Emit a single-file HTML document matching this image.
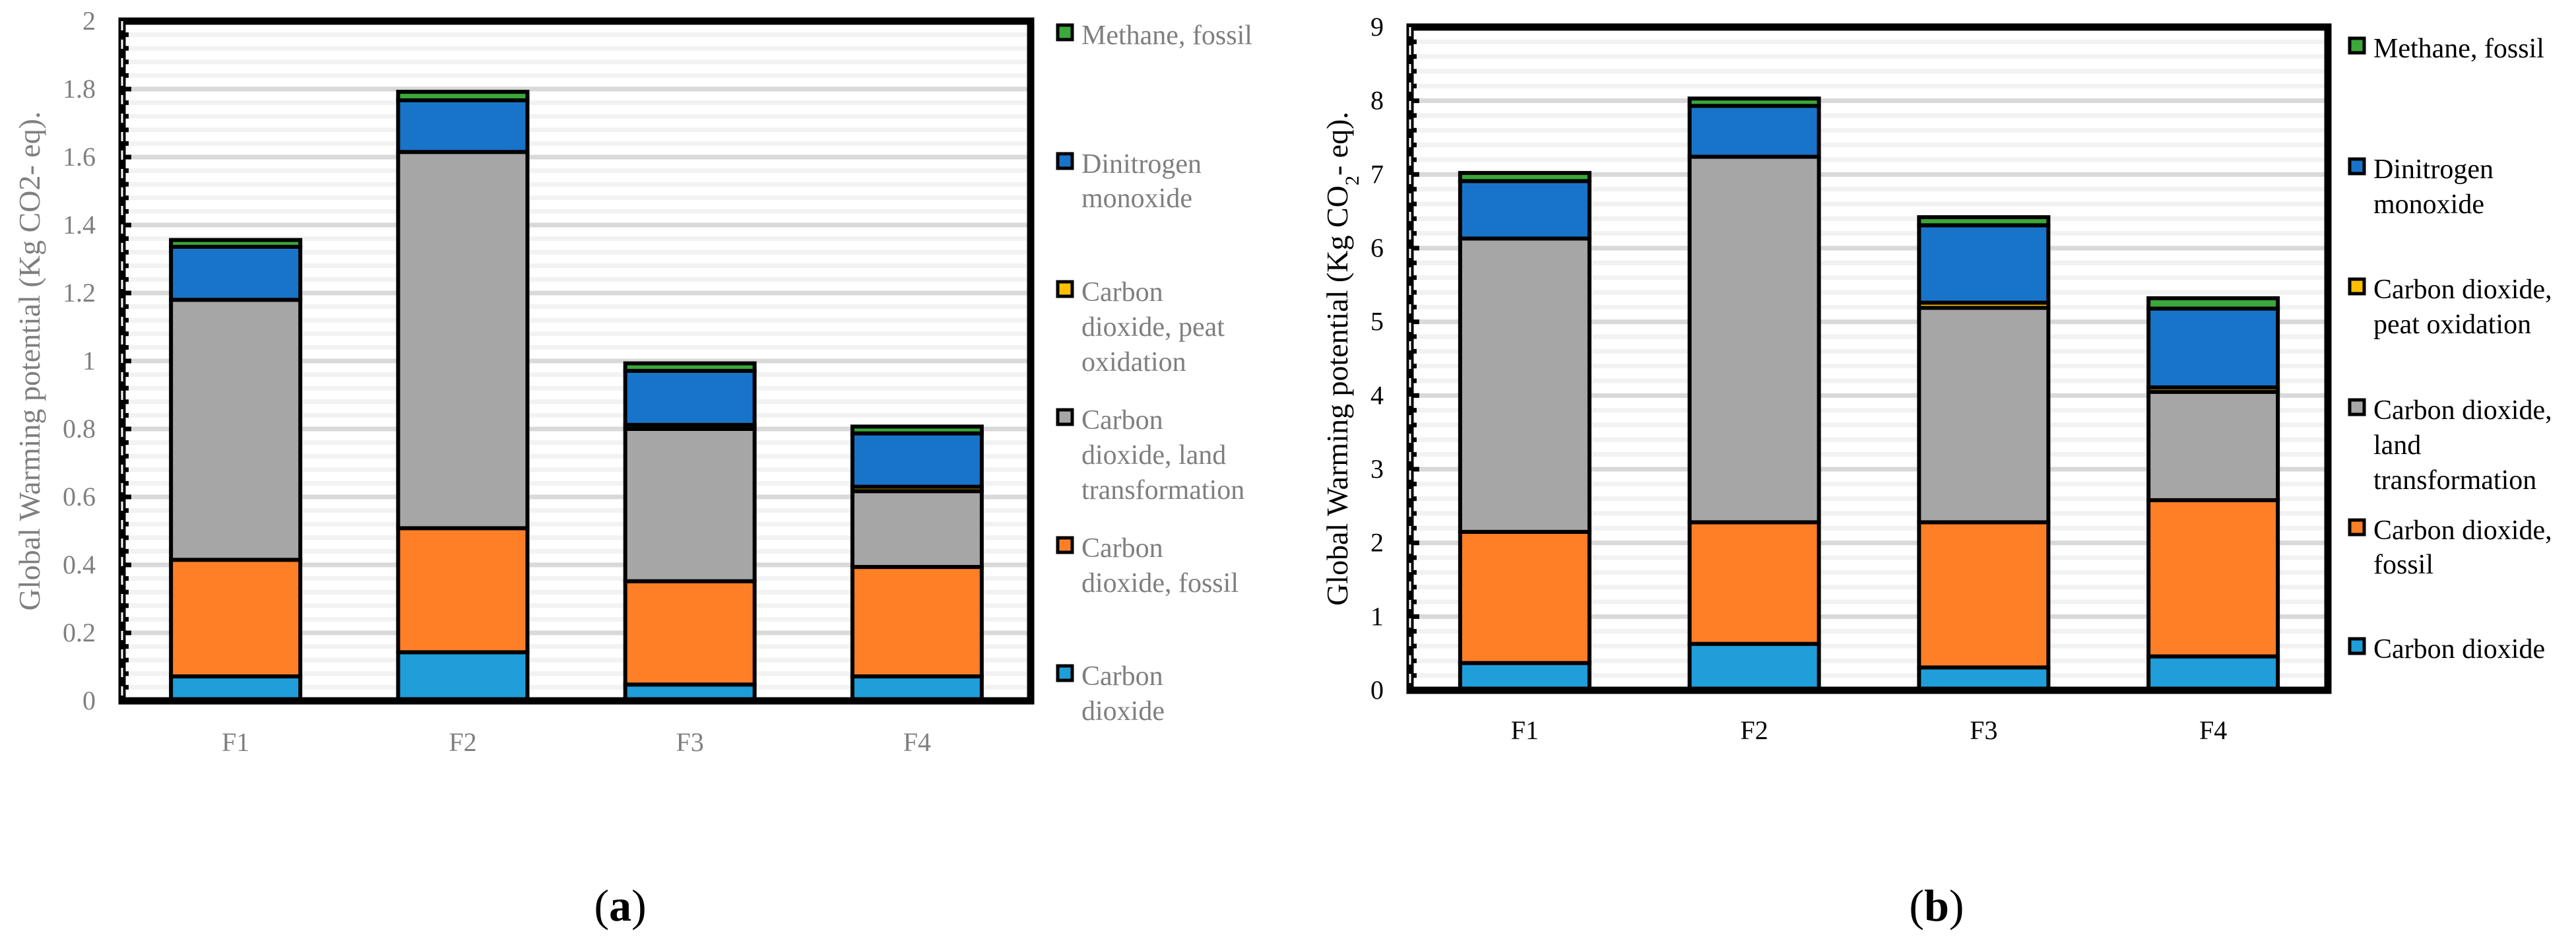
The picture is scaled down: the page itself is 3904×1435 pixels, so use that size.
<!DOCTYPE html>
<html><head><meta charset="utf-8">
<style>
html,body{margin:0;padding:0;background:#fff;}
svg{display:block;font-family:"Liberation Serif",serif;}
svg text{font-family:"Liberation Serif",serif;}
</style></head>
<body>
<svg id="fig" width="3904" height="1435" viewBox="0 0 3904 1435" xmlns="http://www.w3.org/2000/svg" font-family="Liberation Serif, serif"></svg>
<script>
const categories = ["F1","F2","F3","F4"];
const seriesNames = ["Carbon dioxide","Carbon dioxide, fossil","Carbon dioxide, land transformation","Carbon dioxide, peat oxidation","Dinitrogen monoxide","Methane, fossil"];
const seriesColors = ["#1f9ed9","#fe7f26","#a6a6a6","#ffc000","#1874c8","#3aa83a"];
// Chart (a) values (Kg CO2-eq.)
const aCO2 = [0.072,0.143,0.048,0.072];
const aFossil = [0.343,0.365,0.304,0.322];
const aLand = [0.765,1.107,0.448,0.223];
const aPeat = [0.0,0.0,0.012,0.013];
const aN2O = [0.156,0.152,0.159,0.157];
const aCH4 = [0.02,0.025,0.022,0.02];
const aTicks = ["0","0.2","0.4","0.6","0.8","1","1.2","1.4","1.6","1.8","2"];
// Chart (b) values
const bCO2 = [0.37,0.63,0.31,0.46];
const bFossil = [1.78,1.65,1.97,2.12];
const bLand = [3.98,4.96,2.91,1.47];
const bPeat = [0.0,0.0,0.07,0.06];
const bN2O = [0.78,0.69,1.05,1.07];
const bCH4 = [0.11,0.10,0.11,0.14];
const bTicks = ["0","1","2","3","4","5","6","7","8","9"];

const NS="http://www.w3.org/2000/svg";
const svg=document.getElementById('fig');
const FF='"Liberation Serif", serif';
function mk(tag,attrs,parent){const e=document.createElementNS(NS,tag);for(const k in attrs)e.setAttribute(k,attrs[k]);if(tag==='text')e.style.fontFamily=FF;(parent||svg).appendChild(e);return e;}

function drawChart(cfg){
  const g=mk('g',{});
  
  
  const {L,R,T,B,max,ticks,step,series,col}=cfg;
  const y=v=>B-(v/max)*(B-T);
  const bw=(R-L)/categories.length;
  const x=i=>L+bw*(i+0.5);
  const nt=ticks.length-1;
  for(let k=0;k<nt;k++){
    for(let m=0;m<5;m++){
      const v=k*step+m*step/5;
      const yy=y(v);
      if(v===0) continue;
      const ln=mk('line',{x1:L,x2:R,y1:yy,y2:yy,stroke:m===0?'#d9d9d9':'#f2f2f2','stroke-width':7},g);
      
      
      const tk=mk('line',{x1:L,x2:L+(m===0?14:10),y1:yy,y2:yy,stroke:'#000','stroke-width':7},g);
      
      
    }
  }
  ticks.forEach((t,k)=>{
    const tx=mk('text',{x:L-40,y:y(k*step)+13,'text-anchor':'end','font-size':40,fill:col},g);
    tx.textContent=t;
    
    
  });
  categories.forEach((c,i)=>{
    let acc=0;
    series.forEach((s,si)=>{
      const v=s[i];
      const r=mk('rect',{x:x(i)-98,y:y(acc+v),width:196,height:Math.max(0,y(acc)-y(acc+v)),fill:seriesColors[si],stroke:'#000','stroke-width':6},g);
      
      
      acc+=v;
    });
    const lb=mk('text',{x:x(i),y:cfg.xlabY,'text-anchor':'middle','font-size':40,fill:col},g);
    lb.textContent=c;
    
    
  });
  const fr=mk('rect',{x:L,y:T,width:R-L,height:B-T,fill:'none',stroke:'#000','stroke-width':11},g);
  
  
  const ax=mk('line',{x1:L,x2:L,y1:T,y2:B,stroke:'#fff','stroke-width':3,'stroke-dasharray':'14 14'},g);
  
  
  const yt=mk('text',{x:0,y:0,'text-anchor':'middle','font-size':46,fill:col,transform:`translate(${cfg.ytX},${(T+B)/2}) rotate(-90)`},g);
  yt.innerHTML=cfg.ytitle;
  
  
  cfg.legend.forEach((it)=>{
    const lg=mk('g',{},g);
    
    
    const sw=mk('rect',{x:cfg.legX,y:it.lines[0]-29,width:22,height:22,fill:seriesColors[it.s],stroke:'#000','stroke-width':5},lg);
    
    
    it.text.forEach((t,j)=>{
      const tt=mk('text',{x:cfg.legX+36,y:it.lines[j],'font-size':42,fill:col},lg);
      tt.textContent=t;
      
      
    });
  });
  const cap=mk('text',{x:cfg.capX,y:1395,'text-anchor':'middle','font-size':68,fill:'#000'},g);
  cap.innerHTML='(<tspan font-weight="bold">'+cfg.cap+'</tspan>)';
  
  
}

drawChart({name:'chart-a',L:185,R:1562,T:32,B:1062,max:2,step:0.2,ticks:aTicks,
  series:[aCO2,aFossil,aLand,aPeat,aN2O,aCH4],col:'#7f7f7f',xlabY:1138,ytX:60,
  ytitle:'Global Warming potential (Kg CO2- eq).',legX:1603,capX:940,cap:'a',
  legend:[
    {s:5,text:['Methane, fossil'],lines:[67]},
    {s:4,text:['Dinitrogen','monoxide'],lines:[262,314]},
    {s:3,text:['Carbon','dioxide, peat','oxidation'],lines:[456,509,562]},
    {s:2,text:['Carbon','dioxide, land','transformation'],lines:[650,703,756]},
    {s:1,text:['Carbon','dioxide, fossil'],lines:[844,897]},
    {s:0,text:['Carbon','dioxide'],lines:[1038,1091]}
  ]});
drawChart({name:'chart-b',L:2137,R:3528,T:41,B:1046,max:9,step:1,ticks:bTicks,
  series:[bCO2,bFossil,bLand,bPeat,bN2O,bCH4],col:'#000',xlabY:1120,ytX:2042,
  ytitle:'Global Warming potential (Kg CO<tspan baseline-shift="sub" font-size="30">2</tspan>- eq).',legX:3561,capX:2935,cap:'b',
  legend:[
    {s:5,text:['Methane, fossil'],lines:[87]},
    {s:4,text:['Dinitrogen','monoxide'],lines:[270,323]},
    {s:3,text:['Carbon dioxide,','peat oxidation'],lines:[452,505]},
    {s:2,text:['Carbon dioxide,','land','transformation'],lines:[635,688,741]},
    {s:1,text:['Carbon dioxide,','fossil'],lines:[817,869]},
    {s:0,text:['Carbon dioxide'],lines:[997]}
  ]});
</script>
</body></html>
